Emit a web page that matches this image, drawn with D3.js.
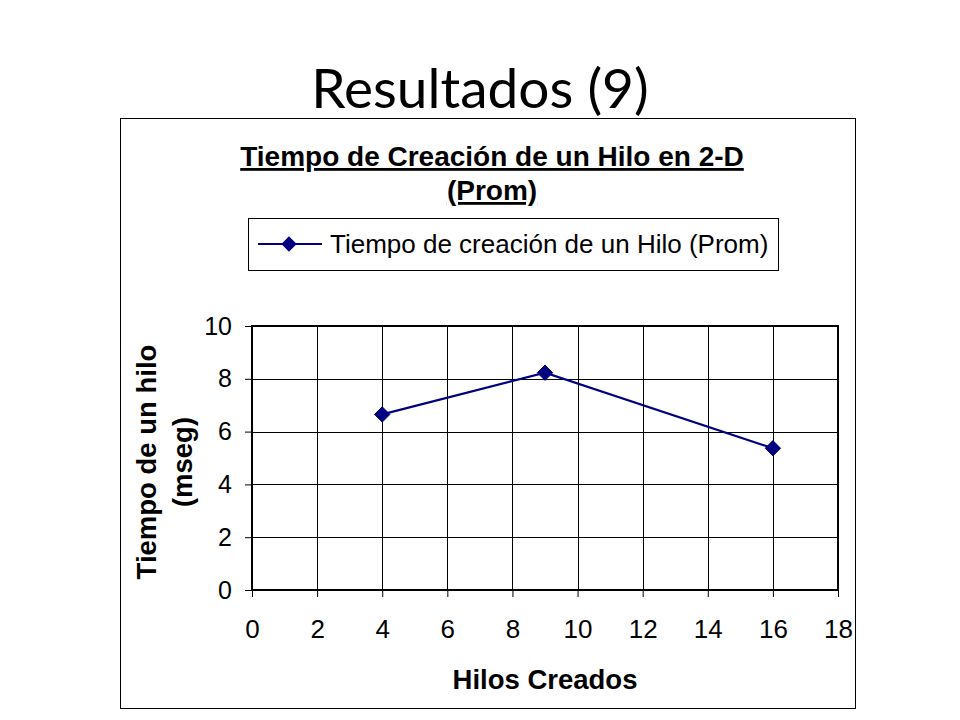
<!DOCTYPE html>
<html><head><meta charset="utf-8">
<script src="https://cdn.jsdelivr.net/npm/d3@7"></script>
<style>body{margin:0;background:#fff}svg{display:block}</style>
</head><body>
<script>
const pageTitle = "Resultados (9)";
const chartTitle = ["Tiempo de Creación de un Hilo en 2-D", "(Prom)"];
const seriesName = "Tiempo de creación de un Hilo (Prom)";
const xValues = [4, 9, 16];
const yValues = [6.65, 8.23, 5.37];
const xTicks = [0, 2, 4, 6, 8, 10, 12, 14, 16, 18];
const yTicks = [0, 2, 4, 6, 8, 10];
const xTitle = "Hilos Creados";
const yTitle = ["Tiempo de un hilo", "(mseg)"];

const W = 960, H = 720;
const svg = d3.select("body").append("svg").attr("width", W).attr("height", H);
svg.append("rect").attr("width", W).attr("height", H).attr("fill", "#fff");

svg.append("text").attr("x", 480).attr("y", 108).attr("text-anchor", "middle")
  .attr("font-family", "Lato, 'Open Sans', sans-serif").attr("font-size", 55)
  .attr("fill", "#000").text(pageTitle);

// chart box
svg.append("rect").attr("x", 120.5).attr("y", 118.5).attr("width", 735).attr("height", 590)
  .attr("fill", "#fff").attr("stroke", "#000").attr("stroke-width", 1);

const font = "'Liberation Sans', Arial, sans-serif";

// title
svg.append("text").attr("x", 492).attr("y", 166).attr("text-anchor", "middle")
  .attr("font-family", font).attr("font-weight", "bold").attr("font-size", 28)
  .attr("text-decoration", "underline").text(chartTitle[0]);
svg.append("text").attr("x", 492).attr("y", 200).attr("text-anchor", "middle")
  .attr("font-family", font).attr("font-weight", "bold").attr("font-size", 28)
  .attr("text-decoration", "underline").text(chartTitle[1]);

// plot
const L = 252, R = 838, T = 326, B = 590;
const x = d3.scaleLinear().domain([0, 18]).range([L, R]);
const y = d3.scaleLinear().domain([0, 10]).range([B, T]);

const g = svg.append("g");
g.append("g").selectAll("line").data(xTicks).join("line")
  .attr("x1", d => Math.round(x(d)) + 0.5).attr("x2", d => Math.round(x(d)) + 0.5)
  .attr("y1", T).attr("y2", B).attr("stroke", "#000").attr("stroke-width", 1);
g.append("g").selectAll("line").data(yTicks).join("line")
  .attr("y1", d => Math.round(y(d)) + 0.5).attr("y2", d => Math.round(y(d)) + 0.5)
  .attr("x1", L).attr("x2", R).attr("stroke", "#000").attr("stroke-width", 1);

g.append("rect").attr("x", L).attr("y", T).attr("width", R - L).attr("height", B - T)
  .attr("fill", "none").attr("stroke", "#000").attr("stroke-width", 2);

// axes
const xAxis = d3.axisBottom(x).tickValues(xTicks).tickSize(7).tickPadding(12);
const gx = svg.append("g").attr("transform", `translate(0,${B})`).call(xAxis);
gx.select(".domain").remove();
gx.selectAll("line").attr("stroke", "#000");
gx.selectAll("text").attr("font-family", font).attr("font-size", 26).attr("fill", "#000")
  .attr("dy", null).attr("y", 48);

const yAxis = d3.axisLeft(y).tickValues(yTicks).tickSize(7).tickPadding(13);
const gy = svg.append("g").attr("transform", `translate(${L},0)`).call(yAxis);
gy.select(".domain").remove();
gy.selectAll("line").attr("stroke", "#000");
gy.selectAll("text").attr("font-family", font).attr("font-size", 25).attr("fill", "#000");

// series
const pts = xValues.map((v, i) => [v, yValues[i]]);
const navy = "#000080";
svg.append("path").datum(pts)
  .attr("d", d3.line().x(d => x(d[0])).y(d => y(d[1])))
  .attr("fill", "none").attr("stroke", navy).attr("stroke-width", 2.2);
const diamond = d3.symbol().type(d3.symbolDiamond2).size(150);
svg.selectAll("path.pt").data(pts).join("path").attr("class", "pt")
  .attr("transform", d => `translate(${x(d[0])},${y(d[1])})`)
  .attr("d", diamond).attr("fill", navy).attr("stroke", navy);

// legend
svg.append("rect").attr("x", 248.5).attr("y", 218.5).attr("width", 530).attr("height", 52)
  .attr("fill", "#fff").attr("stroke", "#000");
svg.append("line").attr("x1", 258).attr("x2", 322).attr("y1", 244).attr("y2", 244)
  .attr("stroke", navy).attr("stroke-width", 2.2);
svg.append("path").attr("transform", "translate(289,244)").attr("d", diamond).attr("fill", navy);
svg.append("text").attr("x", 330).attr("y", 253).attr("font-family", font).attr("font-size", 26)
  .text(seriesName);

// axis titles
svg.append("text").attr("x", 545).attr("y", 689).attr("text-anchor", "middle")
  .attr("font-family", font).attr("font-weight", "bold").attr("font-size", 27.5).text(xTitle);
const yt = svg.append("text").attr("transform", "translate(0,462) rotate(-90)")
  .attr("text-anchor", "middle").attr("font-family", font).attr("font-weight", "bold").attr("font-size", 27.5);
yt.append("tspan").attr("x", 0).attr("y", 156).text(yTitle[0]);
yt.append("tspan").attr("x", 0).attr("y", 192).text(yTitle[1]);
</script>
</body></html>
